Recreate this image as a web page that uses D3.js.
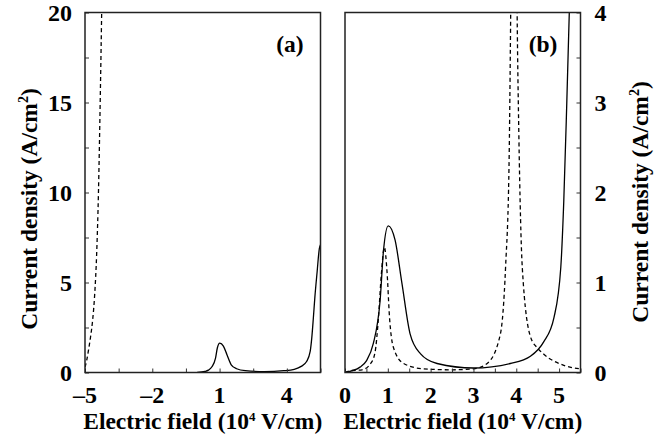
<!DOCTYPE html>
<html>
<head>
<meta charset="utf-8">
<script src="https://cdn.jsdelivr.net/npm/d3@7"></script>
<style>
  html, body { margin: 0; padding: 0; background: #fff; }
  svg { display: block; }
  text { font-family: "Liberation Serif", "Times New Roman", serif; font-weight: bold; fill: #000; }
</style>
</head>
<body>
<svg id="chart" width="668" height="441"></svg>
<script>
// ---------- data ----------
// panel (a): x from -5 to 5.5, y 0..20
const xDomainA = [-5, 5.5];
const yDomainA = [0, 20];
const xTickLabelsA = [-5, -2, 1, 4];
const yTickLabelsA = [0, 5, 10, 15, 20];

// panel (b): x from 0 to 5.5, y 0..4
const xDomainB = [0, 5.5];
const yDomainB = [0, 4];
const xTickLabelsB = [0, 1, 2, 3, 4, 5];
const yTickLabelsB = [0, 1, 2, 3, 4];

// solid curve (shown in both panels)
const solidX = [0, 0.35, 0.5, 0.66, 0.82, 0.9, 1.01, 1.17, 1.33, 1.52, 1.76, 2.15, 3.0, 3.86, 4.33, 4.64, 4.88, 5.04, 5.11, 5.18, 5.25, 5.35, 5.45, 5.5];
const solidY = [0, 0.06, 0.13, 0.32, 0.8, 1.36, 1.63, 1.47, 0.99, 0.43, 0.21, 0.1, 0.05, 0.1, 0.18, 0.34, 0.61, 1.17, 1.91, 3.0, 4.2, 5.6, 6.9, 7.1];

// dashed curve in panel (a), negative field
const dashedAX = [-5.0, -4.92, -4.85, -4.75, -4.66, -4.57, -4.48, -4.40, -4.33, -4.25];
const dashedAY = [0.3, 0.7, 1.2, 2.0, 2.9, 4.3, 6.6, 10.0, 14.5, 20.5];

// dashed curve in panel (b)
const dashedBX = [0, 0.12, 0.4, 0.6, 0.7, 0.78, 0.85, 0.92, 0.98, 1.04, 1.13, 1.37, 1.84, 2.5, 3.0, 3.32, 3.63, 3.75, 3.83, 3.87, 3.95, 4.02, 4.06, 4.14, 4.33, 4.5, 4.65, 5.11, 5.5];
const dashedBY = [0, 0.02, 0.03, 0.1, 0.22, 0.6, 1.1, 1.39, 1.13, 0.61, 0.28, 0.1, 0.04, 0.03, 0.04, 0.1, 0.43, 1.17, 2.28, 4.0, 9.0, 4.0, 2.65, 1.17, 0.4, 0.27, 0.2, 0.08, 0.04];

// ---------- drawing ----------
const svg = d3.select("#chart");
const plotTop = 12.5, plotBottom = 372.5;
const tickFont = 24, titleFont = 23.5;

function zip(xs, ys) { return xs.map((x, i) => [x, ys[i]]); }

function panel(opt) {
  const x = d3.scaleLinear().domain(opt.xDomain).range([opt.left, opt.right]);
  const y = d3.scaleLinear().domain(opt.yDomain).range([plotBottom, plotTop]);
  const g = svg.append("g");
  const clipId = "clip" + opt.id;
  svg.append("defs").append("clipPath").attr("id", clipId)
    .append("rect").attr("x", opt.left).attr("y", plotTop)
    .attr("width", opt.right - opt.left).attr("height", plotBottom - plotTop);

  // curves
  const line = d3.line().x(d => x(d[0])).y(d => y(d[1])).curve(d3.curveMonotoneX);
  const cg = g.append("g").attr("clip-path", `url(#${clipId})`);
  opt.series.forEach(s => {
    cg.append("path").datum(zip(s.x, s.y))
      .attr("d", line).attr("fill", "none")
      .attr("stroke", "#000").attr("stroke-width", 1.3)
      .attr("stroke-dasharray", s.dashed ? "4,3" : null);
  });

  // bottom axis (ticks inside)
  const xMinor = d3.range(opt.xDomain[0], opt.xDomain[1] + 1e-9, opt.xMinorStep);
  const xAxis = d3.axisBottom(x).tickValues(xMinor).tickSizeInner(-4).tickSizeOuter(0).tickFormat("");
  const xa = g.append("g").attr("transform", `translate(0,${plotBottom})`).call(xAxis);
  xa.select(".domain").remove();
  xa.selectAll("line").attr("stroke", "#333").attr("stroke-width", 1);
  g.append("g").selectAll("text").data(opt.xLabels).join("text")
    .attr("x", d => x(d)).attr("y", 403)
    .attr("text-anchor", "middle").attr("font-size", tickFont)
    .text(d => d < 0 ? "\u2013" + Math.abs(d) : d);

  // y axis ticks (inside)
  const yMinor = d3.range(opt.yDomain[0], opt.yDomain[1] + 1e-9, opt.yMinorStep);
  const yAxisFn = opt.yRight ? d3.axisRight(y) : d3.axisLeft(y);
  const yAxis = yAxisFn.tickValues(yMinor).tickSizeInner(-4).tickSizeOuter(0).tickFormat("");
  const ya = g.append("g").attr("transform", `translate(${opt.yRight ? opt.right : opt.left},0)`).call(yAxis);
  ya.select(".domain").remove();
  ya.selectAll("line").attr("stroke", "#333").attr("stroke-width", 1);
  g.append("g").selectAll("text").data(opt.yLabels).join("text")
    .attr("x", opt.yRight ? opt.right + 14 : opt.left - 13)
    .attr("y", d => y(d)).attr("dy", "0.35em")
    .attr("text-anchor", opt.yRight ? "start" : "end").attr("font-size", tickFont)
    .text(d => d);

  // frame
  g.append("rect").attr("x", opt.left).attr("y", plotTop)
    .attr("width", opt.right - opt.left).attr("height", plotBottom - plotTop)
    .attr("fill", "none").attr("stroke", "#222").attr("stroke-width", 1.5);

  // panel tag
  g.append("text").attr("x", opt.tagX).attr("y", 52)
    .attr("text-anchor", "middle").attr("font-size", titleFont).text(opt.tag);

  // x title
  const xt = g.append("text").attr("x", (opt.left + opt.right) / 2).attr("y", 429)
    .attr("text-anchor", "middle").attr("font-size", titleFont);
  xt.append("tspan").text("Electric field (10");
  xt.append("tspan").attr("dy", -8).attr("font-size", 13).text("4");
  xt.append("tspan").attr("dy", 8).text(" V/cm)");

  // y title
  const yt = g.append("text")
    .attr("transform", `translate(${opt.yTitleX},${opt.yTitleY}) rotate(-90)`)
    .attr("text-anchor", "middle").attr("font-size", titleFont);
  yt.append("tspan").text("Current density (A/cm");
  yt.append("tspan").attr("dy", -9).attr("font-size", 14).text("2");
  yt.append("tspan").attr("dy", 9).text(")");
}

panel({
  id: "a", left: 85, right: 320.5,
  xDomain: xDomainA, yDomain: yDomainA, xMinorStep: 1.5, yMinorStep: 2.5,
  xLabels: xTickLabelsA, yLabels: yTickLabelsA, yRight: false,
  tag: "(a)", tagX: 290, yTitleX: 37, yTitleY: 209,
  series: [
    { x: dashedAX, y: dashedAY, dashed: true },
    { x: solidX, y: solidY, dashed: false }
  ]
});

panel({
  id: "b", left: 345, right: 580.5,
  xDomain: xDomainB, yDomain: yDomainB, xMinorStep: 0.5, yMinorStep: 0.5,
  xLabels: xTickLabelsB, yLabels: yTickLabelsB, yRight: true,
  tag: "(b)", tagX: 543, yTitleX: 648, yTitleY: 202,
  series: [
    { x: dashedBX, y: dashedBY, dashed: true },
    { x: solidX, y: solidY, dashed: false }
  ]
});
</script>
</body>
</html>
